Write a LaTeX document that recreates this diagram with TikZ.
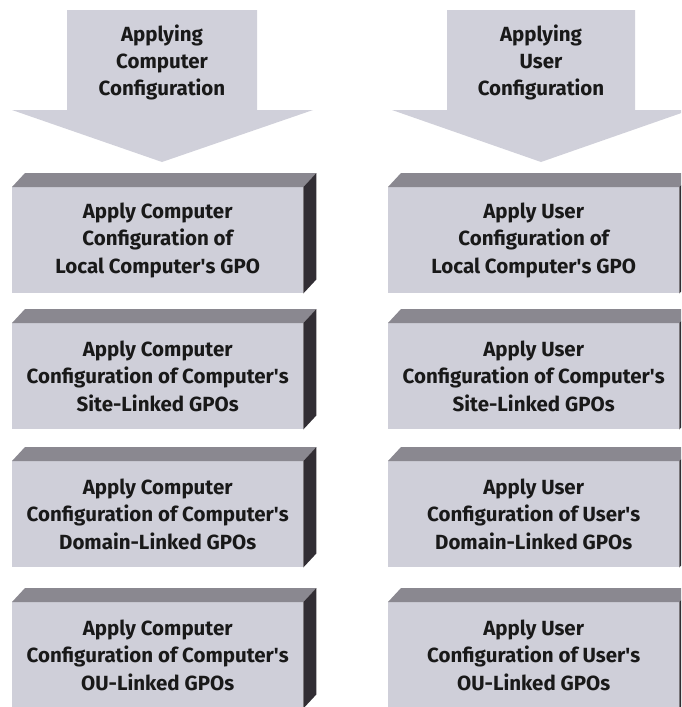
\documentclass[tikz,border=0pt]{standalone}
\usepackage{fontspec}
\setmainfont{Fira Sans}
\usetikzlibrary{calc}
\definecolor{frontc}{RGB}{207,207,217}
\definecolor{topc}{RGB}{138,136,144}
\definecolor{sidec}{RGB}{50,46,52}
\definecolor{arrowc}{RGB}{208,208,218}
\definecolor{textc}{RGB}{25,25,25}
\newcommand{\ap}{\textquotesingle}
\newcommand{\gpobox}[4]{%
  \node[boxfront] (#1) at (#2,#3) {#4};
  \fill[boxtop] (#1.north west) -- ++(13,-14) -- ($(#1.north east)+(13,-14)$) -- (#1.north east) -- cycle;
  \fill[boxside] (#1.north east) -- ++(13,-14) -- ($(#1.south east)+(13,-14)$) -- (#1.south east) -- cycle;
}
\begin{document}
\begin{tikzpicture}[x=1pt,y=-1pt,
  boxfront/.style={fill=frontc, draw=none, text=textc, minimum width=291pt, minimum height=106pt, anchor=north west, inner sep=0pt, align=center, font=\fontsize{20.5}{27.5}\selectfont\bfseries},
  boxtop/.style={fill=topc, draw=none},
  boxside/.style={fill=sidec, draw=none},
  bigarrow/.style={fill=arrowc, draw=none},
  arrowtext/.style={align=center, text=textc, font=\fontsize{20.5}{27}\selectfont\bfseries, inner sep=0pt}]
\clip (0,0) rectangle (681,707);
\useasboundingbox (0,0) rectangle (681,707);
% arrows
\fill[bigarrow] (67,10) -- (257,10) -- (257,110) -- (313,110) -- (162,162) -- (12,110) -- (67,110) -- cycle;
\node[arrowtext] (la) at (162,62) {Applying\\Computer\\Configuration};
\fill[bigarrow] (447,10) -- (635,10) -- (635,110) -- (690,110) -- (541,162) -- (392,110) -- (447,110) -- cycle;
\node[arrowtext] (ra) at (541,62) {Applying\\User\\Configuration};
% boxes
\gpobox{l1}{12}{187}{Apply Computer\\Configuration of\\Local Computer\ap s GPO}
\gpobox{l2}{12}{323}{Apply Computer\\Configuration of Computer\ap s\\Site-Linked GPOs}
\gpobox{l3}{12}{461}{Apply Computer\\Configuration of Computer\ap s\\Domain-Linked GPOs}
\gpobox{l4}{12}{602}{Apply Computer\\Configuration of Computer\ap s\\OU-Linked GPOs}
\gpobox{r1}{388}{187}{Apply User\\Configuration of\\Local Computer\ap s GPO}
\gpobox{r2}{388}{323}{Apply User\\Configuration of Computer\ap s\\Site-Linked GPOs}
\gpobox{r3}{388}{461}{Apply User\\Configuration of User\ap s\\Domain-Linked GPOs}
\gpobox{r4}{388}{602}{Apply User\\Configuration of User\ap s\\OU-Linked GPOs}
\end{tikzpicture}
\end{document}
